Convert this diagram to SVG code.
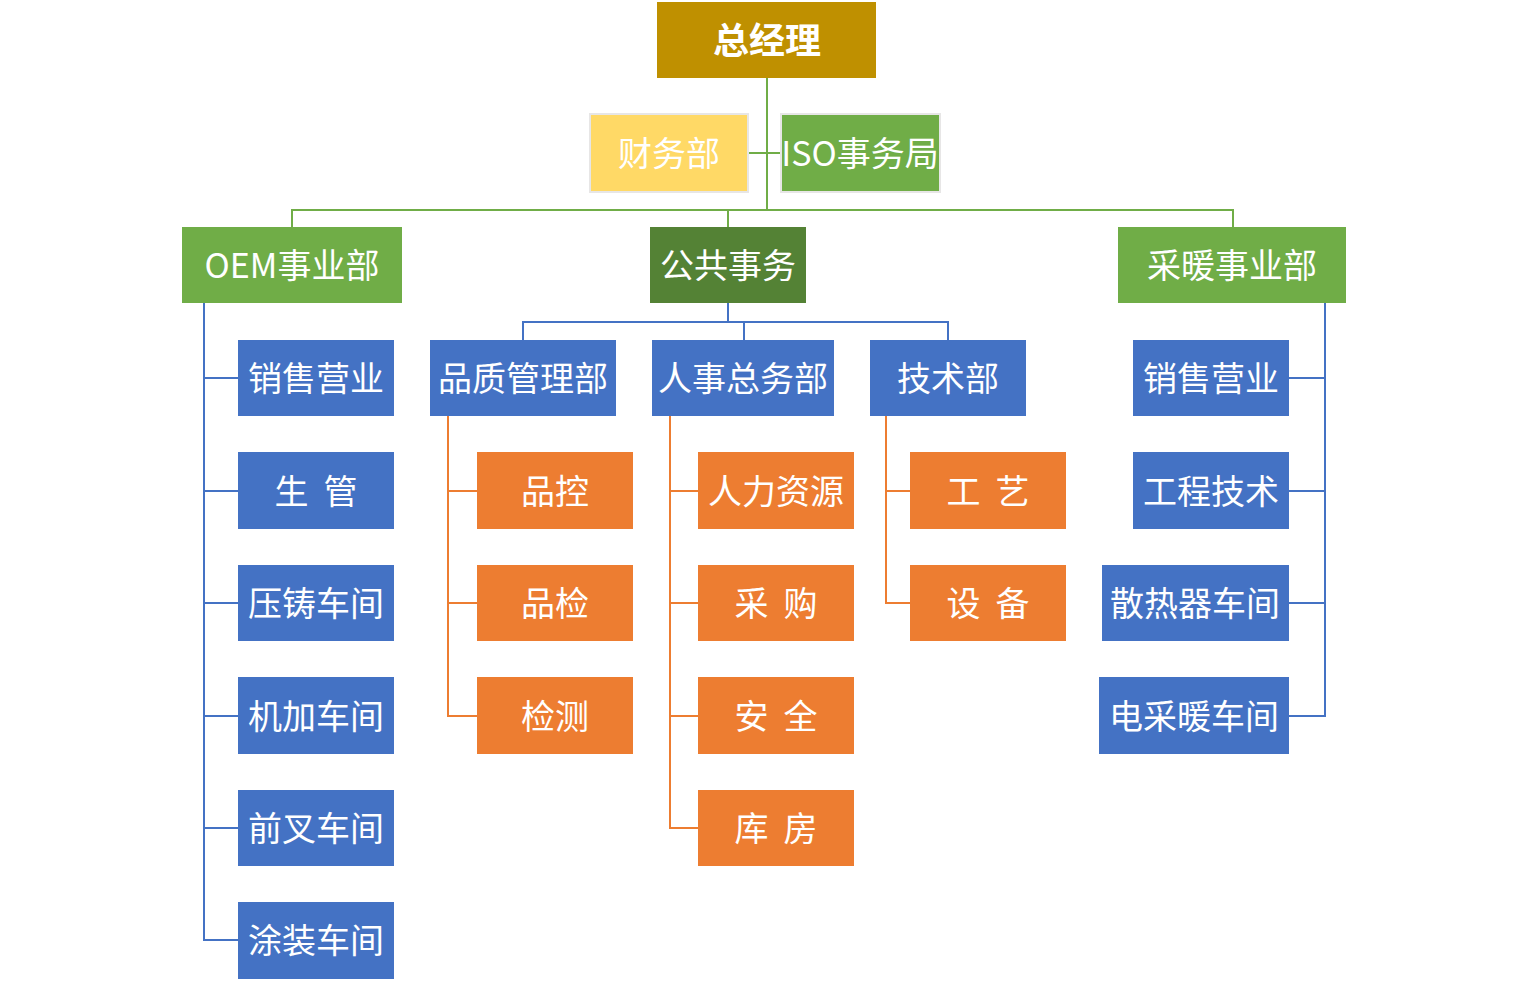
<svg xmlns="http://www.w3.org/2000/svg" width="1530" height="982" viewBox="0 0 1530 982">
<style>
.t{font-family:"Noto Sans CJK SC","Microsoft YaHei","Noto Sans",sans-serif;font-size:34px;fill:#FFFFFF;text-anchor:middle;dominant-baseline:central;white-space:pre}
.b{font-weight:bold;font-size:36px}
.blue{fill:#4472C4}
.org{fill:#ED7D31}
.grn{fill:#70AD47}
.lg{stroke:#70AD47;stroke-width:2;fill:none}
.lb{stroke:#4472C4;stroke-width:2;fill:none}
.lo{stroke:#ED7D31;stroke-width:2;fill:none}
</style>
<rect width="1530" height="982" fill="#FFFFFF"/>
<g id="connectors">
<path class="lg" d="M767 78V210M748 153H781M292 227V210H1233V227M728 210V227"/>
<path class="lb" d="M728 303V322M523 340V322H948V340M744 322V340"/>
<path class="lb" d="M204 303V940H238M204 378H238M204 491H238M204 603H238M204 716H238M204 828H238"/>
<path class="lb" d="M1325 303V716H1289M1325 378H1289M1325 491H1289M1325 603H1289"/>
<path class="lo" d="M448 416V716H477M448 491H477M448 603H477"/>
<path class="lo" d="M670 416V828H698M670 491H698M670 603H698M670 716H698"/>
<path class="lo" d="M886 416V603H910M886 491H910"/>
</g>
<g id="n-gm"><rect x="657" y="2" width="219" height="76" fill="#BF9000"/><text class="t b" x="767" y="38">总经理</text></g>
<g id="n-fin"><rect x="590" y="114" width="158" height="78" fill="#FFD966" stroke="#E7E6E6" stroke-width="2"/><text class="t" x="669" y="151" fill="#FFF2CC">财务部</text></g>
<g id="n-iso"><rect x="781" y="114" width="159" height="78" fill="#70AD47" stroke="#E7E6E6" stroke-width="2"/><text class="t" x="860" y="151">ISO事务局</text></g>
<g id="n-oem"><rect class="grn" x="182" y="227" width="220" height="76"/><text class="t" x="292" y="263">OEM事业部</text></g>
<g id="n-pub"><rect x="650" y="227" width="156" height="76" fill="#548235"/><text class="t" x="728" y="263">公共事务</text></g>
<g id="n-heat"><rect class="grn" x="1118" y="227" width="228" height="76"/><text class="t" x="1232" y="263">采暖事业部</text></g>

<g id="n-oem1"><rect class="blue" x="238" y="340" width="156" height="76"/><text class="t" x="316" y="376">销售营业</text></g>
<g id="n-oem2"><rect class="blue" x="238" y="452" width="156" height="77"/><text class="t" x="316" y="489">生  管</text></g>
<g id="n-oem3"><rect class="blue" x="238" y="565" width="156" height="76"/><text class="t" x="316" y="601">压铸车间</text></g>
<g id="n-oem4"><rect class="blue" x="238" y="677" width="156" height="77"/><text class="t" x="316" y="714">机加车间</text></g>
<g id="n-oem5"><rect class="blue" x="238" y="790" width="156" height="76"/><text class="t" x="316" y="826">前叉车间</text></g>
<g id="n-oem6"><rect class="blue" x="238" y="902" width="156" height="77"/><text class="t" x="316" y="938">涂装车间</text></g>

<g id="n-qm"><rect class="blue" x="430" y="340" width="186" height="76"/><text class="t" x="523" y="376">品质管理部</text></g>
<g id="n-hr"><rect class="blue" x="652" y="340" width="182" height="76"/><text class="t" x="743" y="376">人事总务部</text></g>
<g id="n-tech"><rect class="blue" x="870" y="340" width="156" height="76"/><text class="t" x="948" y="376">技术部</text></g>

<g id="n-qm1"><rect class="org" x="477" y="452" width="156" height="77"/><text class="t" x="555" y="489">品控</text></g>
<g id="n-qm2"><rect class="org" x="477" y="565" width="156" height="76"/><text class="t" x="555" y="601">品检</text></g>
<g id="n-qm3"><rect class="org" x="477" y="677" width="156" height="77"/><text class="t" x="555" y="714">检测</text></g>

<g id="n-hr1"><rect class="org" x="698" y="452" width="156" height="77"/><text class="t" x="776" y="489">人力资源</text></g>
<g id="n-hr2"><rect class="org" x="698" y="565" width="156" height="76"/><text class="t" x="776" y="601">采  购</text></g>
<g id="n-hr3"><rect class="org" x="698" y="677" width="156" height="77"/><text class="t" x="776" y="714">安  全</text></g>
<g id="n-hr4"><rect class="org" x="698" y="790" width="156" height="76"/><text class="t" x="776" y="826">库  房</text></g>

<g id="n-tech1"><rect class="org" x="910" y="452" width="156" height="77"/><text class="t" x="988" y="489">工  艺</text></g>
<g id="n-tech2"><rect class="org" x="910" y="565" width="156" height="76"/><text class="t" x="988" y="601">设  备</text></g>

<g id="n-heat1"><rect class="blue" x="1133" y="340" width="156" height="76"/><text class="t" x="1211" y="376">销售营业</text></g>
<g id="n-heat2"><rect class="blue" x="1133" y="452" width="156" height="77"/><text class="t" x="1211" y="489">工程技术</text></g>
<g id="n-heat3"><rect class="blue" x="1102" y="565" width="187" height="76"/><text class="t" x="1195" y="601">散热器车间</text></g>
<g id="n-heat4"><rect class="blue" x="1099" y="677" width="190" height="77"/><text class="t" x="1194" y="714">电采暖车间</text></g>
</svg>
